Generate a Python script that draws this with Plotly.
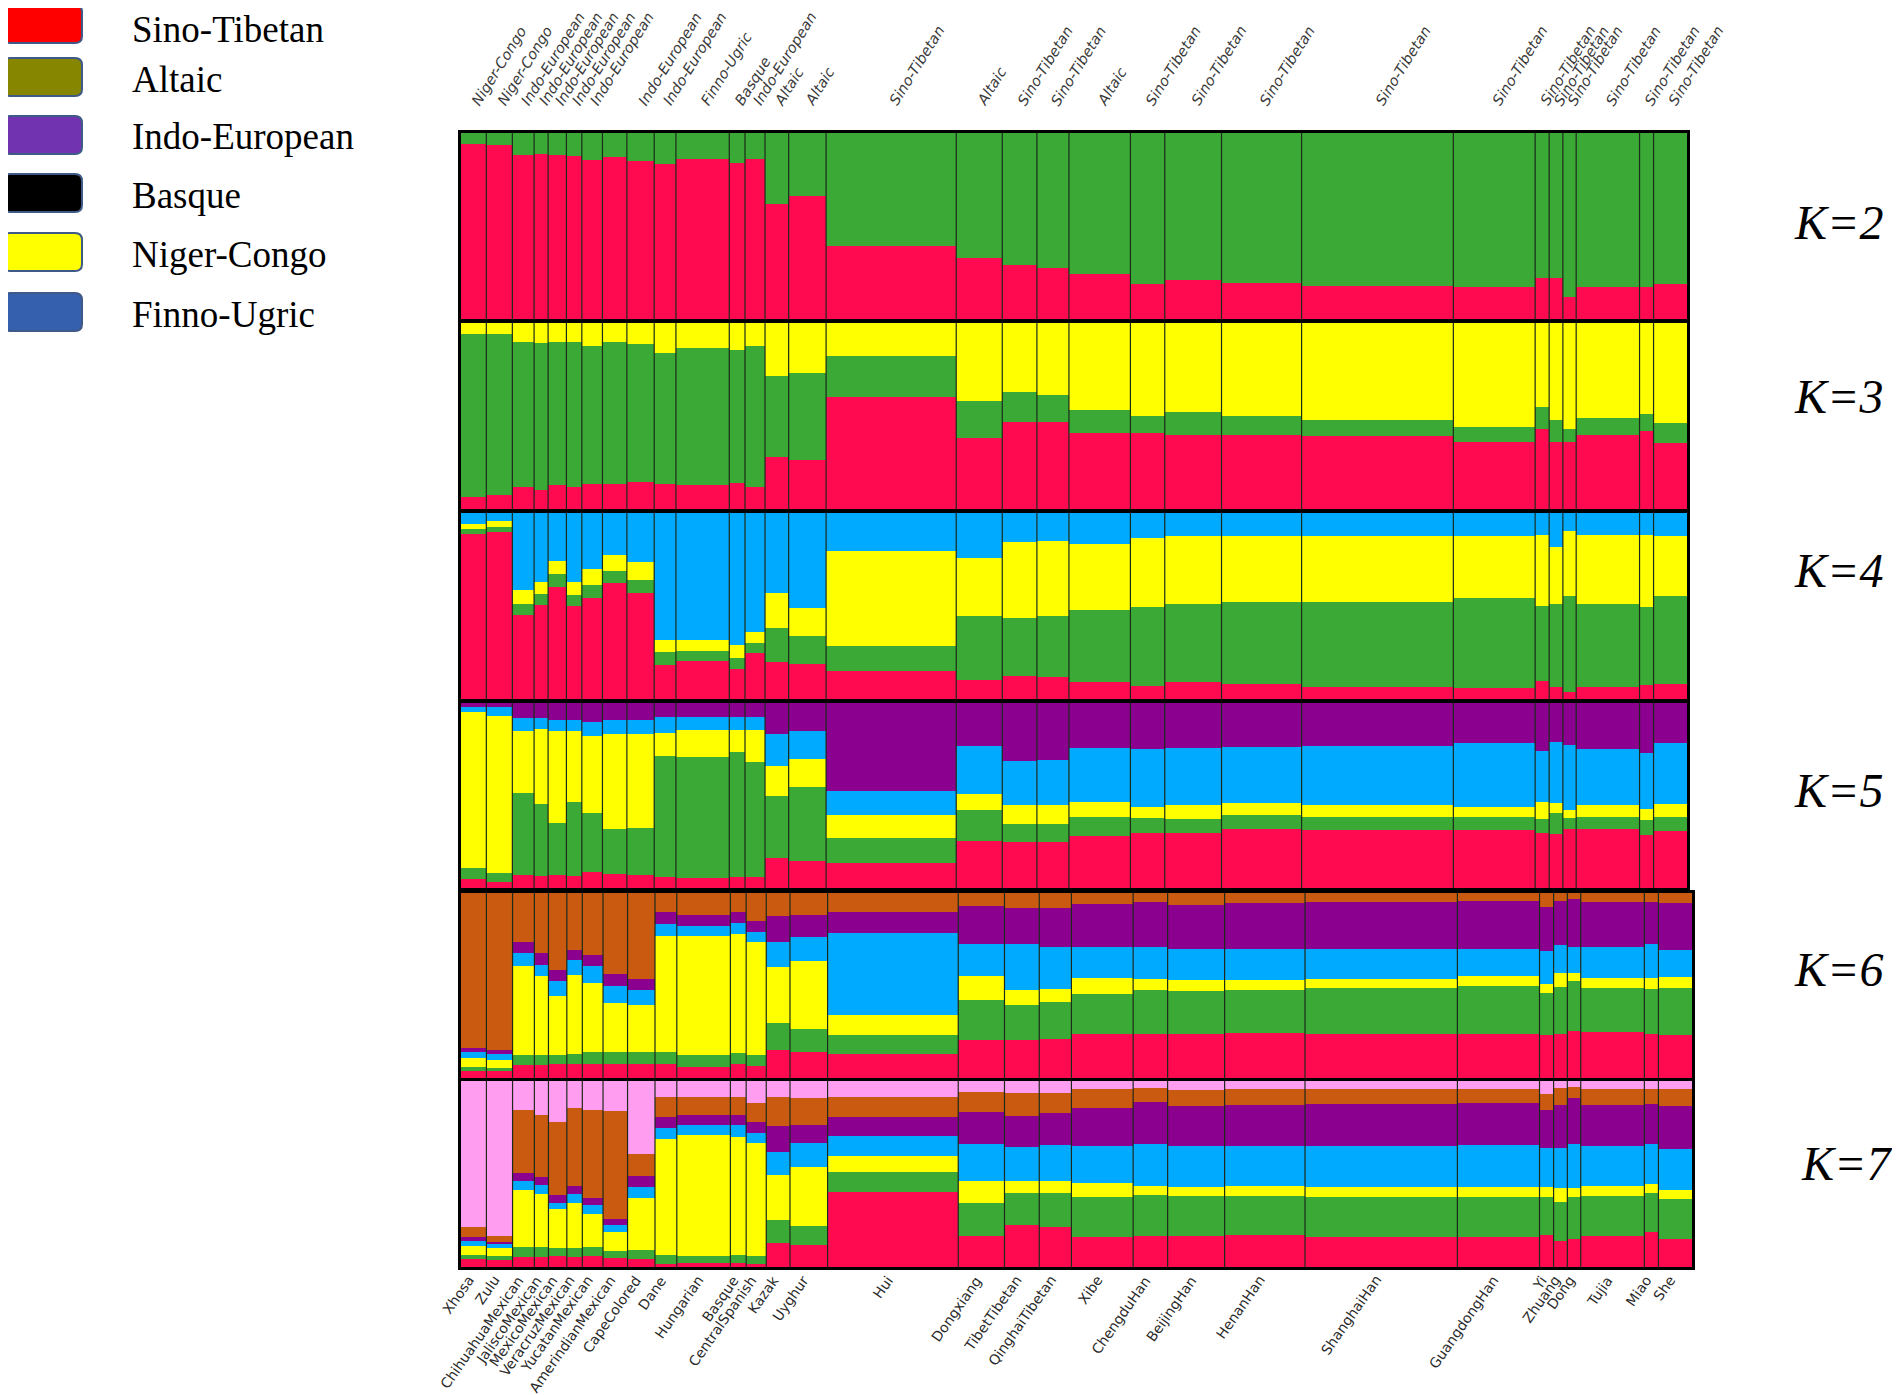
import plotly.graph_objects as go

# page is rendered with an 8px body margin; work in page pixels and convert
OFF = 8
W, H = 1900 - OFF, 1395 - OFF


def xp(px):
    return (px - OFF) / W


def yp(py):
    return 1 - (py - OFF) / H


populations = ["Xhosa", "Zulu", "ChihuahuaMexican", "JaliscoMexican", "MexicoMexican",
               "VeracruzMexican", "YucatanMexican", "AmerindianMexican", "CapeColored", "Dane",
               "Hungarian", "Basque", "CentralSpanish", "Kazak", "Uyghur", "Hui", "Dongxiang",
               "TibetTibetan", "QinghaiTibetan", "Xibe", "ChengduHan", "BeijingHan", "HenanHan",
               "ShanghaiHan", "GuangdongHan", "Yi", "Zhuang", "Dong", "Tujia", "Miao", "She"]

families = ["Niger-Congo", "Niger-Congo", "Indo-European", "Indo-European", "Indo-European",
            "Indo-European", "Indo-European", "", "Indo-European", "Indo-European",
            "Finno-Ugric", "Basque", "Indo-European", "Altaic", "Altaic", "Sino-Tibetan", "Altaic",
            "Sino-Tibetan", "Sino-Tibetan", "Altaic", "Sino-Tibetan", "Sino-Tibetan", "Sino-Tibetan",
            "Sino-Tibetan", "Sino-Tibetan", "Sino-Tibetan", "Sino-Tibetan", "Sino-Tibetan",
            "Sino-Tibetan", "Sino-Tibetan", "Sino-Tibetan"]

# relative bar widths (sample sizes)
widths = [25.3, 26, 21.7, 14, 18.3, 15.4, 20.6, 24.4, 27.3, 21.7, 53.3, 15.7, 20, 23.6, 37.4,
          130, 46, 34.6, 32, 61.4, 34.3, 56.7, 80, 151.6, 81.7, 14, 13.7, 13.3, 63.3, 14, 33.4]

K2_red = [.94, .934, .88, .886, .884, .874, .854, .87, .85, .836, .86, .84, .86, .616, .664, .394, .326, .29, .274, .24, .19, .21, .194, .18, .17, .22, .22, .12, .17, .174, .19]
K2_green = [.06, .066, .12, .114, .116, .126, .146, .13, .15, .164, .14, .16, .14, .384, .336, .606, .674, .71, .726, .76, .81, .79, .806, .82, .83, .78, .78, .88, .83, .826, .81]

K3_red = [.064, .074, .12, .104, .13, .12, .135, .135, .143, .135, .13, .14, .116, .28, .264, .60, .38, .47, .47, .41, .41, .40, .40, .39, .36, .43, .36, .36, .40, .42, .355]
K3_green = [.876, .866, .776, .786, .766, .776, .741, .761, .743, .702, .737, .713, .76, .433, .469, .22, .20, .16, .144, .122, .09, .12, .10, .09, .08, .12, .12, .07, .09, .09, .105]
K3_yellow = [.06, .06, .104, .11, .104, .104, .124, .104, .114, .163, .133, .147, .124, .287, .267, .18, .42, .37, .386, .468, .50, .48, .50, .52, .56, .45, .52, .57, .51, .49, .54]

K4_red = [.886, .897, .45, .507, .602, .499, .542, .625, .572, .184, .204, .164, .247, .197, .189, .152, .104, .124, .119, .089, .069, .093, .079, .063, .06, .099, .063, .039, .065, .073, .079]
K4_green = [.026, .026, .063, .059, .069, .059, .073, .065, .069, .067, .053, .059, .055, .183, .15, .134, .343, .31, .325, .39, .428, .42, .444, .458, .481, .402, .45, .513, .448, .42, .473]
K4_yellow = [.028, .034, .073, .065, .073, .073, .085, .085, .093, .065, .059, .067, .057, .19, .152, .509, .312, .408, .404, .355, .371, .361, .351, .355, .335, .381, .304, .349, .369, .388, .325]
K4_blue = [.06, .043, .414, .369, .256, .369, .30, .225, .266, .684, .684, .71, .641, .43, .509, .205, .241, .158, .152, .166, .132, .126, .126, .124, .124, .118, .183, .099, .118, .118, .122]

K5_red = [.05, .03, .07, .066, .07, .066, .086, .074, .07, .06, .054, .06, .06, .16, .146, .134, .254, .246, .25, .28, .30, .30, .32, .314, .314, .30, .29, .32, .32, .286, .31]
K5_green = [.06, .05, .444, .388, .284, .40, .32, .246, .256, .654, .656, .674, .62, .34, .40, .136, .166, .10, .096, .106, .08, .074, .074, .072, .072, .074, .116, .06, .066, .084, .076]
K5_yellow = [.84, .85, .336, .406, .492, .384, .414, .51, .504, .126, .144, .12, .174, .16, .154, .124, .086, .10, .10, .078, .06, .076, .066, .06, .054, .092, .054, .04, .06, .056, .068]
K5_blue = [.03, .05, .07, .06, .06, .056, .08, .076, .076, .086, .072, .072, .072, .17, .146, .132, .26, .24, .248, .292, .314, .306, .30, .324, .346, .274, .33, .354, .308, .304, .332]
K5_purple = [.02, .02, .08, .08, .094, .094, .10, .094, .094, .074, .074, .074, .074, .17, .154, .474, .234, .314, .306, .244, .246, .244, .24, .23, .214, .26, .21, .226, .246, .27, .214]

K6_red = [.04, .036, .07, .07, .077, .075, .078, .078, .078, .077, .062, .078, .065, .152, .139, .128, .207, .203, .21, .236, .238, .237, .241, .238, .24, .235, .238, .253, .247, .237, .231]
K6_green = [.02, .018, .053, .053, .05, .053, .06, .06, .06, .063, .065, .055, .06, .143, .125, .104, .215, .19, .20, .22, .236, .232, .236, .246, .256, .224, .256, .27, .242, .246, .256]
K6_yellow = [.05, .045, .48, .43, .317, .43, .376, .267, .257, .63, .64, .647, .61, .307, .366, .11, .13, .08, .07, .085, .06, .06, .055, .053, .055, .05, .075, .045, .053, .06, .06]
K6_blue = [.03, .03, .07, .06, .08, .08, .093, .09, .08, .06, .053, .06, .055, .133, .13, .44, .173, .25, .23, .167, .173, .17, .167, .163, .148, .18, .15, .138, .168, .183, .146]
K6_purple = [.02, .02, .06, .06, .06, .055, .06, .065, .06, .07, .06, .06, .06, .14, .12, .118, .205, .197, .21, .232, .243, .236, .246, .25, .256, .236, .236, .264, .24, .224, .252]
K6_brown = [.84, .85, .267, .327, .416, .307, .333, .44, .465, .10, .12, .10, .15, .125, .12, .10, .07, .08, .08, .06, .05, .065, .055, .05, .045, .075, .045, .03, .05, .05, .055]

K7_red = [.041, .038, .055, .054, .058, .054, .06, .047, .041, .017, .019, .021, .015, .128, .118, .401, .167, .226, .217, .159, .168, .166, .171, .162, .161, .172, .141, .149, .166, .186, .148]
K7_green = [.024, .02, .053, .053, .043, .047, .05, .04, .05, .05, .04, .043, .043, .124, .102, .108, .177, .172, .181, .217, .217, .217, .211, .217, .217, .205, .209, .23, .217, .211, .217]
K7_yellow = [.05, .043, .305, .285, .21, .242, .173, .10, .28, .62, .65, .635, .61, .24, .315, .09, .118, .065, .065, .075, .053, .049, .051, .051, .051, .055, .073, .045, .053, .051, .049]
K7_blue = [.024, .02, .05, .05, .035, .05, .05, .04, .057, .06, .055, .065, .05, .128, .134, .108, .197, .183, .191, .197, .222, .217, .217, .22, .225, .207, .217, .236, .217, .211, .22]
K7_purple = [.024, .016, .04, .04, .04, .04, .04, .03, .06, .06, .053, .053, .06, .138, .094, .10, .177, .165, .173, .207, .226, .217, .22, .226, .228, .203, .23, .246, .217, .217, .232]
K7_brown = [.05, .03, .34, .335, .394, .423, .47, .58, .122, .108, .098, .098, .104, .157, .146, .108, .104, .124, .108, .10, .075, .083, .085, .079, .073, .087, .091, .063, .085, .079, .089]
K7_pink = [.787, .833, .157, .183, .22, .144, .157, .163, .39, .085, .085, .085, .118, .085, .091, .085, .06, .065, .065, .045, .039, .051, .045, .045, .045, .071, .039, .031, .045, .045, .045]

legend_labels = ["Sino-Tibetan", "Altaic", "Indo-European", "Basque", "Niger-Congo", "Finno-Ugric"]
legend_colors = ["#FF0000", "#878600", "#7233B0", "#000000", "#FFFF00", "#3560AE"]

cluster_colors = {"red": "#FF0A50", "green": "#3AA935", "yellow": "#FFFF00", "blue": "#00AAFF",
                  "purple": "#8B008E", "brown": "#C95A0F", "pink": "#FF9EF0"}

panels = [
    ("K=2", [("red", K2_red), ("green", K2_green)]),
    ("K=3", [("red", K3_red), ("green", K3_green), ("yellow", K3_yellow)]),
    ("K=4", [("red", K4_red), ("green", K4_green), ("yellow", K4_yellow), ("blue", K4_blue)]),
    ("K=5", [("red", K5_red), ("green", K5_green), ("yellow", K5_yellow), ("blue", K5_blue),
             ("purple", K5_purple)]),
    ("K=6", [("red", K6_red), ("green", K6_green), ("yellow", K6_yellow), ("blue", K6_blue),
             ("purple", K6_purple), ("brown", K6_brown)]),
    ("K=7", [("red", K7_red), ("green", K7_green), ("yellow", K7_yellow), ("blue", K7_blue),
             ("purple", K7_purple), ("brown", K7_brown), ("pink", K7_pink)]),
]

# ---- layout geometry (page pixels) ----
row_px = [(133, 319), (323, 509), (513, 699), (703, 888), (893, 1078), (1081, 1267)]
x_left_px = 461
x_right_px = [1687, 1687, 1687, 1687, 1692, 1692]
klabel_px = [(1838, 222), (1838, 396), (1838, 570), (1838, 790), (1838, 969), (1846, 1163)]

edges = [0]
for w in widths:
    edges.append(edges[-1] + w)
total = edges[-1]
centers = [(edges[i] + edges[i + 1]) / 2 for i in range(len(widths))]

fig = go.Figure()
annotations = []
shapes = []

for p, (klab, comps) in enumerate(panels):
    n = p + 1
    xa = "x" if n == 1 else f"x{n}"
    ya = "y" if n == 1 else f"y{n}"
    sums = [sum(c[1][i] for c in comps) for i in range(len(widths))]
    for name, vals in comps:
        fig.add_trace(go.Bar(
            x=centers, y=[v / s for v, s in zip(vals, sums)], width=widths,
            marker=dict(color=cluster_colors[name], line=dict(width=0)),
            xaxis=xa, yaxis=ya, showlegend=False, hoverinfo="skip"))
    # population separators
    sx, sy = [], []
    for e in edges[1:-1]:
        sx += [e, e, None]
        sy += [0, 1, None]
    fig.add_trace(go.Scatter(x=sx, y=sy, mode="lines", line=dict(color="#1c2a1c", width=1.2),
                             xaxis=xa, yaxis=ya, showlegend=False, hoverinfo="skip"))
    top, bot = row_px[p]
    axkey = "xaxis" if n == 1 else f"xaxis{n}"
    aykey = "yaxis" if n == 1 else f"yaxis{n}"
    common = dict(showgrid=False, zeroline=False, showticklabels=False, ticks="",
                  showline=True, mirror=True, linewidth=3, linecolor="black", fixedrange=True)
    fig.update_layout(**{
        axkey: dict(domain=[xp(x_left_px), xp(x_right_px[p])], range=[0, total],
                    anchor=ya, **common),
        aykey: dict(domain=[yp(bot), yp(top)], range=[0, 1], anchor=xa, **common),
    })
    kx, ky = klabel_px[p]
    annotations.append(dict(text=klab, x=xp(kx), y=yp(ky), xref="paper", yref="paper",
                            xanchor="center", yanchor="middle", showarrow=False,
                            font=dict(family="Liberation Serif", size=48, color="black",
                                      style="italic")))

# top labels (language family)
for c, fam in zip(centers, families):
    if not fam:
        continue
    annotations.append(dict(text=fam, x=c, y=yp(111), xref="x", yref="paper",
                            xanchor="left", yanchor="bottom", textangle=-58, xshift=-8,
                            showarrow=False,
                            font=dict(family="DejaVu Sans", size=14.5, color="#3a3a3a",
                                      style="italic")))

# bottom labels (population)
for c, pop in zip(centers, populations):
    annotations.append(dict(text=pop, x=c, y=yp(1270), xref="x6", yref="paper",
                            xanchor="right", yanchor="top", textangle=-55, xshift=6,
                            showarrow=False,
                            font=dict(family="DejaVu Sans", size=14, color="#2a2a2a")))

# legend (language families)
sw_x0, sw_x1 = 3, 82
row_y = [24, 77, 135, 193, 252, 312]
sw_h = 38
r = 7
for i, (yc, lab, col) in enumerate(zip(row_y, legend_labels, legend_colors)):
    x0, x1 = xp(sw_x0), xp(sw_x1)
    y0, y1 = yp(yc + sw_h / 2), yp(yc - sw_h / 2)
    rx, ry = r / W, r / H
    path = (f"M {x0 + rx},{y0} L {x1 - rx},{y0} Q {x1},{y0} {x1},{y0 + ry} "
            f"L {x1},{y1 - ry} Q {x1},{y1} {x1 - rx},{y1} L {x0 + rx},{y1} "
            f"Q {x0},{y1} {x0},{y1 - ry} L {x0},{y0 + ry} Q {x0},{y0} {x0 + rx},{y0} Z")
    shapes.append(dict(type="path", path=path, xref="paper", yref="paper",
                       fillcolor=col, line=dict(color="#3F5A86", width=2)))
    if i == 0:
        ann = dict(y=1, yanchor="top")
    else:
        ann = dict(y=yp(yc + 2), yanchor="middle")
    annotations.append(dict(text=lab, x=xp(131), xref="paper", yref="paper",
                            xanchor="left", showarrow=False, borderpad=0,
                            font=dict(family="Liberation Serif", size=37, color="black"),
                            **ann))

fig.update_layout(
    width=W, height=H, autosize=False,
    margin=dict(l=0, r=0, t=0, b=0),
    paper_bgcolor="white", plot_bgcolor="white",
    barmode="stack", bargap=0,
    annotations=annotations, shapes=shapes,
)

fig.write_html("out.html")
